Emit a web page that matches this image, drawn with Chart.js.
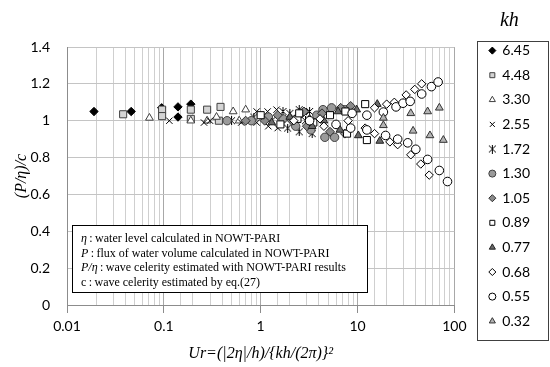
<!DOCTYPE html>
<html>
<head>
<meta charset="utf-8">
<script src="https://cdn.jsdelivr.net/npm/chart.js@4.4.1/dist/chart.umd.min.js"></script>
<style>
  html, body { margin: 0; padding: 0; background: #fff; }
  #wrap { width: 550px; height: 367px; }
</style>
</head>
<body>
<div id="wrap"><canvas id="chart"></canvas></div>
<script>
// kh values shown in the legend
const khLabels = ['6.45', '4.48', '3.30', '2.55', '1.72', '1.30', '1.05', '0.89', '0.77', '0.68', '0.55', '0.32'];

// [Ur, (P/eta)/c] pairs, one array per kh
const kh645 = [[0.019, 1.05], [0.046, 1.05], [0.095, 1.07], [0.14, 1.075], [0.14, 1.02], [0.19, 1.09]];
const kh448 = [[0.038, 1.035], [0.096, 1.06], [0.096, 1.025], [0.19, 1.06], [0.19, 1.01], [0.28, 1.06], [0.385, 1.075], [0.37, 1.0]];
const kh330 = [[0.071, 1.015], [0.19, 1.0], [0.35, 1.02], [0.52, 1.05], [0.70, 1.06], [0.6, 1.0], [0.28, 1.0]];
const kh255 = [[0.114, 1.0], [0.26, 0.99], [0.30, 1.0], [0.47, 1.0], [0.63, 0.99], [0.91, 1.05], [0.91, 0.99], [1.18, 1.05], [1.2, 0.97], [1.46, 1.06], [1.5, 0.96]];
const kh172 = [[0.5, 1.0], [0.85, 1.02], [1.3, 1.0], [1.7, 1.05], [1.9, 0.96], [2.0, 1.04], [2.5, 1.06], [2.5, 0.94], [2.9, 1.0], [3.2, 1.05], [3.4, 0.93]];
const kh130 = [[0.45, 1.0], [0.8, 1.0], [1.2, 1.02], [1.7, 1.01], [2.3, 0.97], [2.6, 1.04], [3.3, 0.95], [3.8, 1.03], [4.4, 1.06], [4.6, 0.91], [5.4, 1.07], [5.8, 0.91], [7.3, 1.06]];
const kh105 = [[0.7, 1.0], [1.1, 1.0], [1.5, 1.03], [2.1, 1.0], [2.8, 1.05], [3.0, 0.97], [4.3, 1.04], [5.2, 0.94], [6.7, 1.07], [7.4, 0.93], [8.5, 1.08]];
const kh089 = [[1.0, 1.03], [1.6, 0.98], [2.4, 1.01], [2.5, 1.04], [3.5, 0.99], [5.2, 1.03], [7.5, 1.05], [7.8, 0.93], [12, 1.09], [12.5, 0.895]];
const kh077 = [[1.3, 0.99], [2.0, 1.02], [3.2, 1.01], [3.4, 0.97], [4.5, 1.0], [6.3, 1.05], [6.6, 0.95], [9.8, 1.06], [10.2, 0.92], [16, 1.09], [17, 0.89]];
const kh068 = [[2.2, 1.0], [4.1, 1.01], [4.5, 0.97], [8, 1.0], [12, 0.96], [15, 1.07], [15, 0.93], [20, 1.09], [24, 1.10], [31.8, 1.14], [39, 1.17], [46, 1.20], [21.6, 0.885], [26, 0.87], [35.5, 0.815], [45, 0.765], [55, 0.705]];
const kh055 = [[3.2, 1.0], [6, 0.98], [8.5, 0.96], [8.8, 1.04], [12.5, 1.03], [12.5, 0.95], [18.5, 1.047], [19.5, 0.92], [25, 1.075], [29.5, 1.095], [35, 1.105], [46, 1.145], [58, 1.185], [68, 1.21], [26, 0.90], [33, 0.88], [40, 0.845], [53, 0.79], [70, 0.73], [85, 0.67]];
const kh032 = [[18.5, 1.015], [18.5, 0.975], [35.5, 1.04], [53, 1.05], [70, 1.07], [37.5, 0.945], [56, 0.92], [77, 0.895]];

const seriesData = [kh645, kh448, kh330, kh255, kh172, kh130, kh105, kh089, kh077, kh068, kh055, kh032];

// asterisk marker (x with a vertical bar)
function makeAsterisk(size) {
  const c = document.createElement('canvas');
  c.width = size;
  c.height = size;
  const g = c.getContext('2d');
  g.strokeStyle = '#000';
  g.lineWidth = 1;
  g.beginPath();
  g.moveTo(1, 1); g.lineTo(size - 1, size - 1);
  g.moveTo(size - 1, 1); g.lineTo(1, size - 1);
  g.moveTo(size / 2, 0); g.lineTo(size / 2, size);
  g.stroke();
  return c;
}
const asterisk = makeAsterisk(9);

const markerStyles = [
  { pointStyle: 'rectRot', backgroundColor: '#000000', borderColor: '#000000', pointRadius: 4.2 },
  { pointStyle: 'rect', backgroundColor: '#d4d4d4', borderColor: '#404040', pointRadius: 5 },
  { pointStyle: 'triangle', backgroundColor: '#ffffff', borderColor: '#404040', pointRadius: 4.5 },
  { pointStyle: 'crossRot', backgroundColor: '#000000', borderColor: '#000000', pointRadius: 4.5 },
  { pointStyle: asterisk, backgroundColor: '#000000', borderColor: '#000000', pointRadius: 4.5 },
  { pointStyle: 'circle', backgroundColor: '#9a9a9a', borderColor: '#404040', pointRadius: 4.2 },
  { pointStyle: 'rectRot', backgroundColor: '#8a8a8a', borderColor: '#303030', pointRadius: 4.5 },
  { pointStyle: 'rect', backgroundColor: '#ffffff', borderColor: '#000000', pointRadius: 5 },
  { pointStyle: 'triangle', backgroundColor: '#6a6a6a', borderColor: '#202020', pointRadius: 4.5 },
  { pointStyle: 'rectRot', backgroundColor: '#ffffff', borderColor: '#000000', pointRadius: 4.2 },
  { pointStyle: 'circle', backgroundColor: '#ffffff', borderColor: '#000000', pointRadius: 4.3 },
  { pointStyle: 'triangle', backgroundColor: '#b4b4b4', borderColor: '#333333', pointRadius: 4.5 }
];

const datasets = khLabels.map((lab, i) => ({
  label: lab,
  data: seriesData[i].map(p => ({ x: p[0], y: p[1] })),
  pointStyle: markerStyles[i].pointStyle,
  backgroundColor: markerStyles[i].backgroundColor,
  borderColor: markerStyles[i].borderColor,
  pointRadius: markerStyles[i].pointRadius,
  pointHoverRadius: markerStyles[i].pointRadius,
  borderWidth: 1,
  order: -i
}));

const isDecade = v => Math.abs(Math.log10(v) - Math.round(Math.log10(v))) < 1e-6;

// note box in the lower left of the plot
const noteLines = [
  ['η', '\u2009:\u2009water level calculated in NOWT-PARI'],
  ['P', '\u2009:\u2009flux of water volume calculated in NOWT-PARI'],
  ['P/η', '\u2009:\u2009wave celerity estimated with NOWT-PARI results'],
  ['', 'c\u2009:\u2009wave celerity estimated by eq.(27)']
];

const notePlugin = {
  id: 'noteBox',
  afterDatasetsDraw(chart) {
    const { ctx, chartArea } = chart;
    const x0 = chartArea.left + 5, y0 = 225, w = 295, h = 67;
    ctx.save();
    ctx.fillStyle = '#fff';
    ctx.fillRect(x0, y0, w, h);
    ctx.strokeStyle = '#000';
    ctx.lineWidth = 1;
    ctx.strokeRect(x0 + 0.5, y0 + 0.5, w, h);
    ctx.fillStyle = '#000';
    ctx.textBaseline = 'middle';
    noteLines.forEach((ln, i) => {
      let x = x0 + 9;
      const y = y0 + 14 + i * 14.5;
      ctx.font = 'italic 12px "Liberation Serif"';
      ctx.fillText(ln[0], x, y);
      x += ctx.measureText(ln[0]).width;
      ctx.font = '12px "Liberation Serif"';
      ctx.fillText(ln[1], x, y);
    });
    ctx.restore();
  },
  afterDraw(chart) {
    const lg = chart.legend;
    const hb = lg.legendHitBoxes;
    if (!hb || !hb.length) return;
    const ctx = chart.ctx;
    const top = Math.round(hb[0].top - 3) + 0.5;
    const last = hb[hb.length - 1];
    const bottom = Math.round(last.top + last.height + 12) + 0.5;
    ctx.save();
    ctx.strokeStyle = '#404040';
    ctx.lineWidth = 1;
    ctx.strokeRect(Math.round(lg.left - 2) + 0.5, top, 548 - Math.round(lg.left - 2), bottom - top);
    ctx.restore();
  }
};

new Chart(document.getElementById('chart'), {
  type: 'scatter',
  data: { datasets: datasets },
  options: {
    responsive: true,
    maintainAspectRatio: false,
    devicePixelRatio: 1,
    animation: false,
    layout: { padding: { right: 10 } },
    plugins: {
      tooltip: { enabled: false },
      title: { display: true, text: ' ', font: { size: 10, lineHeight: 1 }, padding: { top: 37, bottom: 0 } },
      legend: {
        position: 'right',
        align: 'start',
        title: {
          display: true,
          text: 'kh',
          color: '#000',
          font: { family: '"Liberation Serif"', style: 'italic', size: 20, lineHeight: 1 },
          padding: { top: 11, bottom: 2 }
        },
        labels: {
          usePointStyle: true,
          boxWidth: 6,
          boxHeight: 5,
          padding: 10.6,
          color: '#000',
          font: { family: 'Lato', size: 14 },
          sort: (a, b) => a.datasetIndex - b.datasetIndex
        }
      }
    },
    scales: {
      x: {
        type: 'logarithmic',
        position: 'bottom',
        min: 0.01,
        max: 100,
        afterFit: s => { s.height = 62; },
        border: { color: '#8c8c8c' },
        grid: {
          color: c => (c.tick && isDecade(c.tick.value)) ? '#a8a8a8' : '#cfcfcf',
          tickColor: c => (c.tick && isDecade(c.tick.value)) ? '#8c8c8c' : 'rgba(0,0,0,0)',
          tickLength: 8
        },
        ticks: {
          autoSkip: false,
          maxRotation: 0,
          padding: 5,
          color: '#000',
          font: { family: 'Lato', size: 14 },
          callback: v => isDecade(v) ? String(Number(v.toPrecision(1))) : ''
        },
        title: {
          display: true,
          text: 'Ur=(|2η|/h)/{kh/(2π)}²',
          color: '#000',
          font: { family: '"Liberation Serif"', style: 'italic', size: 16 },
          padding: { top: 0, bottom: 4 }
        }
      },
      y: {
        min: 0,
        max: 1.4,
        afterFit: s => { s.width = 67; },
        border: { color: '#8c8c8c' },
        grid: { color: '#c4c4c4', drawTicks: false },
        ticks: {
          stepSize: 0.2,
          padding: 17,
          color: '#000',
          font: { family: 'Lato', size: 14 },
          callback: v => String(Number(v.toFixed(1)))
        },
        title: {
          display: true,
          text: '(P/η)/c',
          color: '#000',
          font: { family: '"Liberation Serif"', style: 'italic', size: 16 },
          padding: { top: 12, bottom: 0 }
        }
      },
      gap: {
        type: 'linear',
        position: 'right',
        display: true,
        grid: { display: false },
        border: { display: false },
        ticks: { display: false },
        afterFit: s => { s.width = 24.4; }
      }
    }
  },
  plugins: [notePlugin]
});
</script>
</body>
</html>
